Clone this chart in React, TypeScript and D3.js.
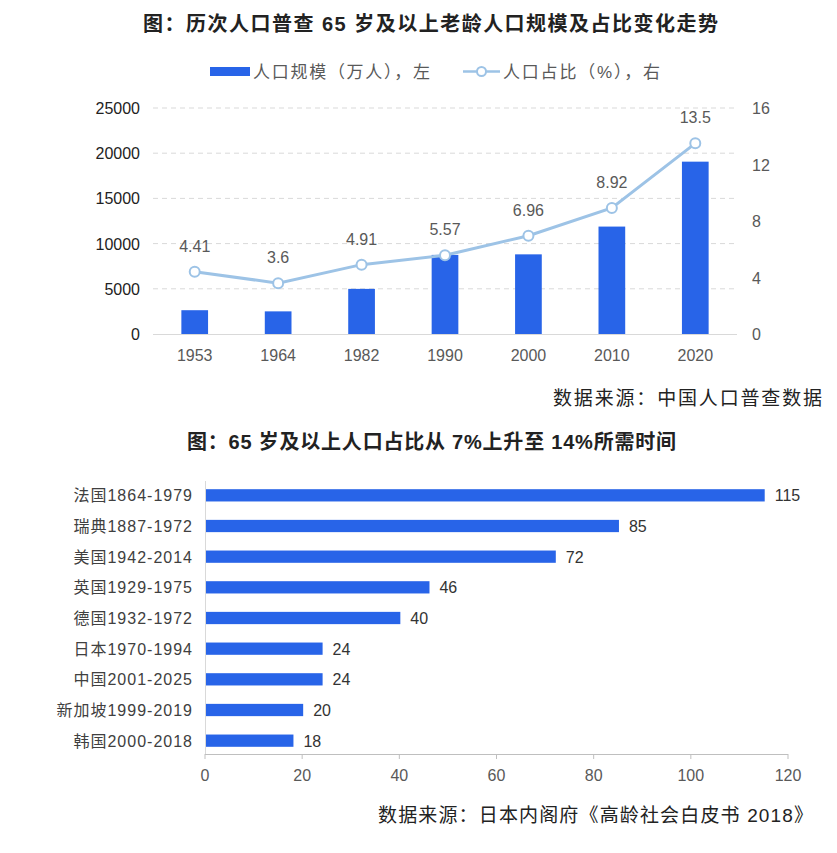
import React, { useEffect, useRef } from 'react';
import * as d3 from 'd3';

// top chart: census years
const censusYears = ['1953', '1964', '1982', '1990', '2000', '2010', '2020'];
const elderlyPop = [2632, 2504, 4991, 8750, 8811, 11883, 19064]; // 万人
const elderlyShare = [4.41, 3.6, 4.91, 5.57, 6.96, 8.92, 13.5]; // %
const leftTicks = [0, 5000, 10000, 15000, 20000, 25000];
const rightTicks = [0, 4, 8, 12, 16];

// bottom chart: years from 7% to 14%
const countries = [
  '法国1864-1979', '瑞典1887-1972', '美国1942-2014', '英国1929-1975', '德国1932-1972',
  '日本1970-1994', '中国2001-2025', '新加坡1999-2019', '韩国2000-2018',
];
const yearsNeeded = [115, 85, 72, 46, 40, 24, 24, 20, 18];
const bottomTicks = [0, 20, 40, 60, 80, 100, 120];

const W = 837;
const H = 853;
const FONT = '"Liberation Sans", "Noto Sans CJK SC", sans-serif';
const BLUE = '#2864e8';
const LINE = '#9dc3e6';
const GREY = '#595959';

export default function App() {
  const svgRef = useRef<SVGSVGElement>(null);

  useEffect(() => {
    if (!svgRef.current) return;
    const svg = d3.select(svgRef.current);
    svg.selectAll('*').remove();
    svg.style('font-family', FONT);

    // text fitted to the width it has in the original
    const wide = (x: number, y: number, len: number, size: number, txt: string, bold = false, fill = '#222') =>
      svg.append('text')
        .attr('x', x).attr('y', y)
        .attr('textLength', len).attr('lengthAdjust', 'spacing')
        .attr('font-size', size).attr('font-weight', bold ? 'bold' : 'normal')
        .attr('fill', fill)
        .text(txt);

    // ---------- title + legend ----------
    wide(143, 31, 575, 20, '图：历次人口普查 65 岁及以上老龄人口规模及占比变化走势', true);

    svg.append('rect').attr('x', 210).attr('y', 67).attr('width', 40).attr('height', 9).attr('fill', BLUE);
    wide(253, 78, 177, 17, '人口规模（万人），左', false, GREY);
    svg.append('line').attr('x1', 463).attr('x2', 500).attr('y1', 71.5).attr('y2', 71.5)
      .attr('stroke', LINE).attr('stroke-width', 2.5);
    svg.append('circle').attr('cx', 481.5).attr('cy', 71.5).attr('r', 4.5)
      .attr('fill', '#fff').attr('stroke', LINE).attr('stroke-width', 2);
    wide(503, 78, 157, 17, '人口占比（%），右', false, GREY);

    // ---------- top combo chart ----------
    const x = d3.scaleBand().domain(censusYears).range([153, 737]).paddingInner(0.68).paddingOuter(0.34);
    const yL = d3.scaleLinear().domain([0, 25000]).range([334, 108]);
    const yR = d3.scaleLinear().domain([0, 16]).range([334, 108]);

    const top = svg.append('g');
    leftTicks.forEach((t) => {
      if (t > 0) {
        top.append('line').attr('x1', 153).attr('x2', 737).attr('y1', yL(t)).attr('y2', yL(t))
          .attr('stroke', '#d9d9d9').attr('stroke-dasharray', '5,4');
      }
      top.append('text').attr('x', 140).attr('y', yL(t) + 6).attr('text-anchor', 'end')
        .attr('font-size', 16).attr('fill', '#222').text(t);
    });
    rightTicks.forEach((t) => {
      top.append('text').attr('x', 752).attr('y', yR(t) + 6).attr('font-size', 16).attr('fill', GREY).text(t);
    });

    top.selectAll('rect.bar').data(elderlyPop).enter().append('rect')
      .attr('class', 'bar')
      .attr('x', (_d, i) => x(censusYears[i]) || 0)
      .attr('width', x.bandwidth())
      .attr('y', (d) => yL(d))
      .attr('height', (d) => yL(0) - yL(d))
      .attr('fill', BLUE);

    top.append('line').attr('x1', 153).attr('x2', 737).attr('y1', 334.5).attr('y2', 334.5)
      .attr('stroke', '#d9d9d9');

    censusYears.forEach((c) => {
      top.append('text').attr('x', (x(c) || 0) + x.bandwidth() / 2).attr('y', 361)
        .attr('text-anchor', 'middle').attr('font-size', 16).attr('fill', GREY).text(c);
    });

    const cx = (i: number) => (x(censusYears[i]) || 0) + x.bandwidth() / 2;
    const line = d3.line<number>().x((_d, i) => cx(i)).y((d) => yR(d));
    top.append('path').datum(elderlyShare).attr('d', line).attr('fill', 'none')
      .attr('stroke', LINE).attr('stroke-width', 3);
    top.selectAll('circle.pt').data(elderlyShare).enter().append('circle')
      .attr('class', 'pt')
      .attr('cx', (_d, i) => cx(i)).attr('cy', (d) => yR(d)).attr('r', 5)
      .attr('fill', '#fff').attr('stroke', LINE).attr('stroke-width', 2);
    top.selectAll('text.lbl').data(elderlyShare).enter().append('text')
      .attr('class', 'lbl')
      .attr('x', (_d, i) => cx(i)).attr('y', (d) => yR(d) - 20)
      .attr('text-anchor', 'middle').attr('font-size', 16).attr('fill', GREY)
      .text((d) => d);

    wide(553, 405, 269, 19, '数据来源：中国人口普查数据');

    // ---------- bottom bar chart ----------
    wide(187, 449, 489, 20, '图：65 岁及以上人口占比从 7%上升至 14%所需时间', true);

    const bx = d3.scaleLinear().domain([0, 120]).range([205, 788]);
    const by = d3.scaleBand().domain(countries).range([480, 756]).paddingInner(0.6).paddingOuter(0.3);
    const bot = svg.append('g');

    bot.append('line').attr('x1', 205.5).attr('x2', 205.5).attr('y1', 481).attr('y2', 754)
      .attr('stroke', '#d9d9d9');
    bot.append('line').attr('x1', 205).attr('x2', 788).attr('y1', 754.5).attr('y2', 754.5)
      .attr('stroke', '#bfbfbf');
    bottomTicks.forEach((t) => {
      bot.append('line').attr('x1', bx(t)).attr('x2', bx(t)).attr('y1', 754).attr('y2', 759)
        .attr('stroke', '#bfbfbf');
      bot.append('text').attr('x', bx(t)).attr('y', 781).attr('text-anchor', 'middle')
        .attr('font-size', 16).attr('fill', GREY).text(t);
    });

    bot.selectAll('rect.hbar').data(yearsNeeded).enter().append('rect')
      .attr('class', 'hbar')
      .attr('x', bx(0) + 1)
      .attr('y', (_d, i) => by(countries[i]) || 0)
      .attr('width', (d) => bx(d) - bx(0))
      .attr('height', by.bandwidth())
      .attr('fill', BLUE);
    bot.selectAll('text.val').data(yearsNeeded).enter().append('text')
      .attr('class', 'val')
      .attr('x', (d) => bx(d) + 11)
      .attr('y', (_d, i) => (by(countries[i]) || 0) + by.bandwidth() / 2 + 6)
      .attr('font-size', 16).attr('fill', '#333').text((d) => d);
    countries.forEach((c) => {
      bot.append('text').attr('x', 193).attr('y', (by(c) || 0) + by.bandwidth() / 2 + 6)
        .attr('text-anchor', 'end').attr('font-size', 16).attr('letter-spacing', 1)
        .attr('fill', '#404040').text(c);
    });

    wide(378, 822, 435, 19, '数据来源：日本内阁府《高龄社会白皮书 2018》');
  }, []);

  return (
    <svg ref={svgRef} width={W} height={H}
      style={{ position: 'absolute', left: 0, top: 0, background: '#fff' }} />
  );
}
